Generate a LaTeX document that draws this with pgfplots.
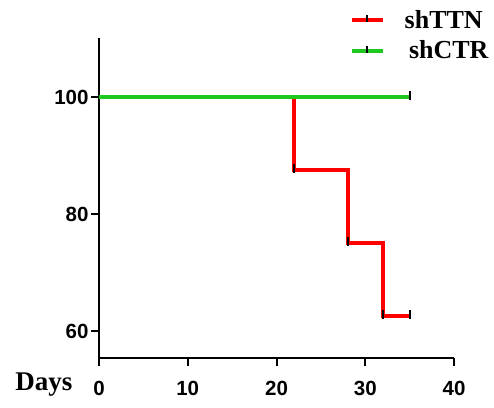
\documentclass[border=0pt]{standalone}
\usepackage{fontspec}
\setmainfont{Liberation Serif}
\newfontfamily\arial{Liberation Sans}
\usepackage{pgfplots}
\pgfplotsset{compat=1.18}
\definecolor{kmred}{RGB}{255,0,0}
\definecolor{kmgreen}{RGB}{30,200,30}
\begin{document}
\begin{tikzpicture}
\path[use as bounding box] (0,0) rectangle (494pt,407pt);
\begin{axis}[
  at={(99pt,49pt)}, anchor=south west,
  scale only axis, width=355pt, height=320pt,
  xmin=0, xmax=40, ymin=55.38, ymax=110.09,
  axis lines*=left,
  axis line style={line width=2.2pt, black},
  xtick={0,10,20,30,40}, ytick={60,80,100},
  tick align=outside, major tick length=8pt,
  tick style={line width=2pt, black},
  /pgf/number format/assume math mode=true,
  ticklabel style={font=\arial\bfseries\fontsize{20.5}{20.5}\selectfont},
  xticklabel style={yshift=-12pt},
  yticklabel style={xshift=1pt},
  clip=false,
  legend cell align=left,
  legend style={draw=none, fill=none, at={(axis description cs:0.7056,1.008)}, anchor=west,
    font=\bfseries\fontsize{26}{26}\selectfont, row sep=7pt, column sep=18pt, inner sep=0pt},
]
\addlegendimage{legend image code/.code={
  \draw[kmred, line width=4pt] (0pt,0pt) -- (31pt,0pt);
  \draw[black, line width=1.8pt] (15.5pt,-2pt) -- (15.5pt,5pt);}}
\addlegendentry{shTTN}
\addlegendimage{legend image code/.code={
  \draw[kmgreen, line width=4pt] (0pt,0pt) -- (31pt,0pt);
  \draw[black, line width=1.8pt] (15.5pt,-2pt) -- (15.5pt,5pt);}}
\addlegendentry{\,shCTR}
\addplot[kmred, line width=4pt, forget plot] coordinates {
  (0,100) (22,100) (22,87.5) (28,87.5) (28,75) (32,75) (32,62.5) (35,62.5)};
\addplot[kmgreen, line width=4pt, forget plot] coordinates {(0,100) (35,100)};
\addplot[only marks, mark=|, mark size=4.5pt, mark options={black, line width=2pt, yshift=2pt}, forget plot]
  coordinates {(22,87.5) (28,75) (32,62.5) (35,62.5) (35,100)};
\end{axis}
\node[font=\bfseries\fontsize{27}{27}\selectfont] at (44pt,22pt) {Days};
\end{tikzpicture}
\end{document}
